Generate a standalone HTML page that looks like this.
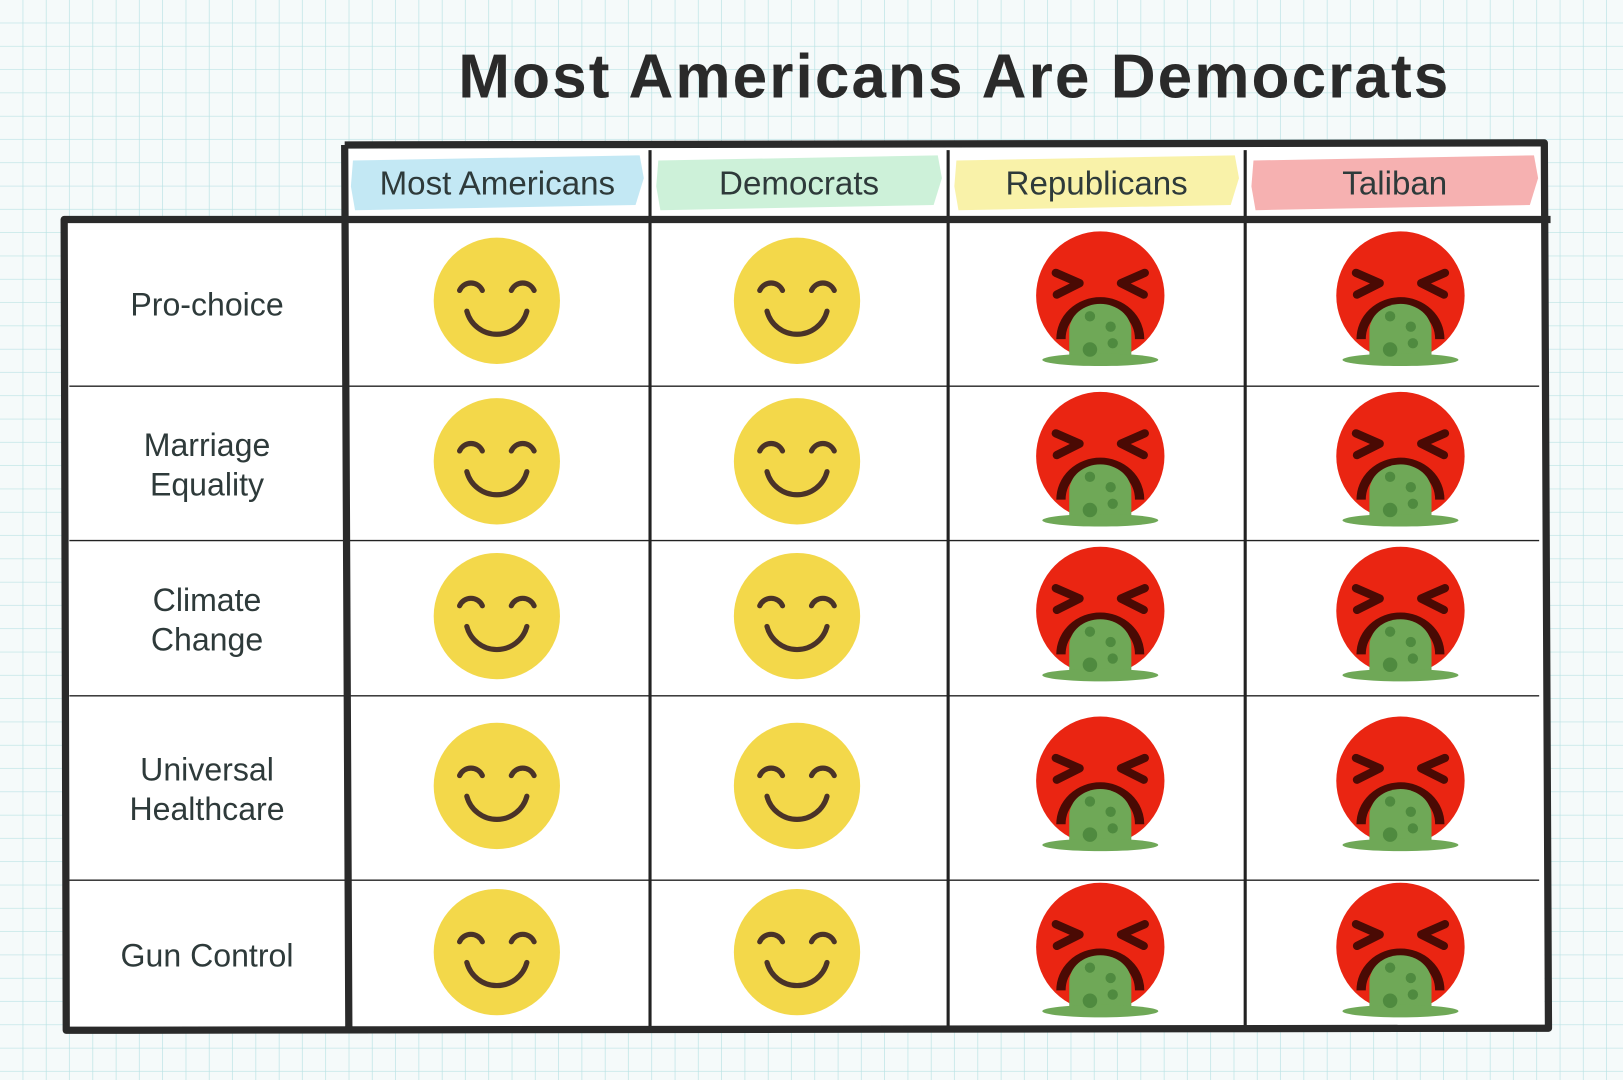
<!DOCTYPE html>
<html><head><meta charset="utf-8"><style>
html,body{margin:0;padding:0;width:1623px;height:1080px;overflow:hidden;background:#f5fafa}
svg{display:block}
text{font-family:"Liberation Sans",sans-serif}
</style></head><body>
<svg id="chart" width="1623" height="1080" viewBox="0 0 1568 1043" preserveAspectRatio="none" xmlns="http://www.w3.org/2000/svg">
<defs>
<pattern id="grid" width="22.5" height="22.5" patternUnits="userSpaceOnUse">
<path d="M22.5 0V22.5M0 22.5H22.5" stroke="#b9e2e4" stroke-width="1.3" fill="none"/>
</pattern>
<g id="happy">
<circle r="61" fill="#f3d84a"/>
<path d="M-36,-10 A12,12 0 0 1 -14,-10" stroke="#4a3328" stroke-width="5" fill="none" stroke-linecap="round"/>
<path d="M14,-10 A12,12 0 0 1 36,-10" stroke="#4a3328" stroke-width="5" fill="none" stroke-linecap="round"/>
<path d="M-29,10 A30,30 0 0 0 29,10" stroke="#4a3328" stroke-width="5" fill="none" stroke-linecap="round"/>
</g>
<g id="sick">
<circle r="62" fill="#ea2512"/>
<path d="M-43,-22 L-20,-12 L-42,-1" stroke="#4a0a04" stroke-width="8" fill="none" stroke-linecap="round" stroke-linejoin="round"/>
<path d="M43,-22 L20,-12 L42,-1" stroke="#4a0a04" stroke-width="8" fill="none" stroke-linecap="round" stroke-linejoin="round"/>
<path d="M-38,42 A38,36 0 0 1 38,42" stroke="#4a0a04" stroke-width="9" fill="none"/>
<path d="M-30,62 L-30,34 A30,26 0 0 1 30,34 L30,62 Z" fill="#6fa857"/>
<ellipse cx="0" cy="62" rx="56" ry="6" fill="#6fa857"/>
<circle cx="-10" cy="20" r="5" fill="#4f8a3f"/><circle cx="10" cy="30" r="5" fill="#4f8a3f"/>
<circle cx="-10" cy="52" r="7" fill="#4f8a3f"/><circle cx="12" cy="46" r="5" fill="#4f8a3f"/>
</g>
</defs>
<rect width="1568" height="1043" fill="#f5fafa"/>
<rect width="1568" height="1043" fill="url(#grid)"/>
<text x="922" y="94" text-anchor="middle" font-size="60" font-weight="bold" letter-spacing="2" fill="#2a2a2a">Most Americans Are Democrats</text>
<g id="table"></g>
</svg>
<script>
const columns = ["Most Americans","Democrats","Republicans","Taliban"];
const categories = ["Pro-choice","Marriage Equality","Climate Change","Universal Healthcare","Gun Control"];
const mostAmericans = [1,1,1,1,1];
const democrats = [1,1,1,1,1];
const republicans = [0,0,0,0,0];
const taliban = [0,0,0,0,0];
const series = [mostAmericans, democrats, republicans, taliban];
const headColors = ["#b8e4f2","#c4efd2","#f8f09a","#f5a3a3"];
const NS="http://www.w3.org/2000/svg";
const g=document.getElementById('table');
function mk(t,a){const e=document.createElementNS(NS,t);for(const k in a)e.setAttribute(k,a[k]);g.appendChild(e);return e;}
const colX=[333,628,916,1203,1492];
const rowY=[212,373,522,672,850,993];
const leftX=62, headTop=140;
mk('rect',{x:leftX,y:rowY[0],width:colX[4]-leftX,height:rowY[5]-rowY[0],fill:'#fff'});
mk('rect',{x:colX[0],y:headTop,width:colX[4]-colX[0],height:rowY[0]-headTop,fill:'#fff'});
columns.forEach((c,i)=>{
 const x0=colX[i],x1=colX[i+1];
 const h=mk('path',{d:`M${x0+8},${155} L${x1-10},${150} L${x1-6},${172} L${x1-14},${198} L${x0+10},${203} L${x0+6},${180} Z`,fill:headColors[i],opacity:0.85});
 
 
 const t=mk('text',{x:(x0+x1)/2,y:188,'text-anchor':'middle','font-size':32,fill:'#2e3a3a'});
 t.textContent=c;
 
 
});
categories.forEach((c,r)=>{
 const cy=(rowY[r]+rowY[r+1])/2;
 const words=c.split(' ');
 const lines=(c.length>12&&words.length>1)?[words.slice(0,words.length-1).join(' '),words[words.length-1]]:[c];
 lines.forEach((l,k)=>{
  const t=mk('text',{x:200,y:cy+12+(k-(lines.length-1)/2)*38,'text-anchor':'middle','font-size':31,fill:'#2e3a3a'});
  t.textContent=l;
  
  
 });
});
for(let r=1;r<5;r++){const l=mk('line',{x1:leftX+5,y1:rowY[r],x2:colX[4]-5,y2:rowY[r],stroke:'#222','stroke-width':1.3});
 }
[1,2,3].forEach(i=>{const l=mk('line',{x1:colX[i],y1:headTop+5,x2:colX[i],y2:rowY[5],stroke:'#222','stroke-width':3});
 });
const fr=mk('path',{d:`M${colX[0]},${headTop} L${colX[4]},${138} L${colX[4]+4},${rowY[5]} L${leftX+2},${rowY[5]+2} L${leftX},${rowY[0]} L${colX[4]+6},${rowY[0]} M${colX[0]},${headTop} L${colX[0]+4},${rowY[5]}`,fill:'none',stroke:'#2a2a2a','stroke-width':7,'stroke-linejoin':'round'});

series.forEach((s,i)=>{
 const cx=[480,770,1063,1353][i];
 s.forEach((v,r)=>{
  const cy=(rowY[r]+rowY[r+1])/2-2;
  const u=mk('use',{href:v?'#happy':'#sick',transform:`translate(${cx},${v?cy:cy-5})`});
  
  
 });
});
</script>
</body></html>
